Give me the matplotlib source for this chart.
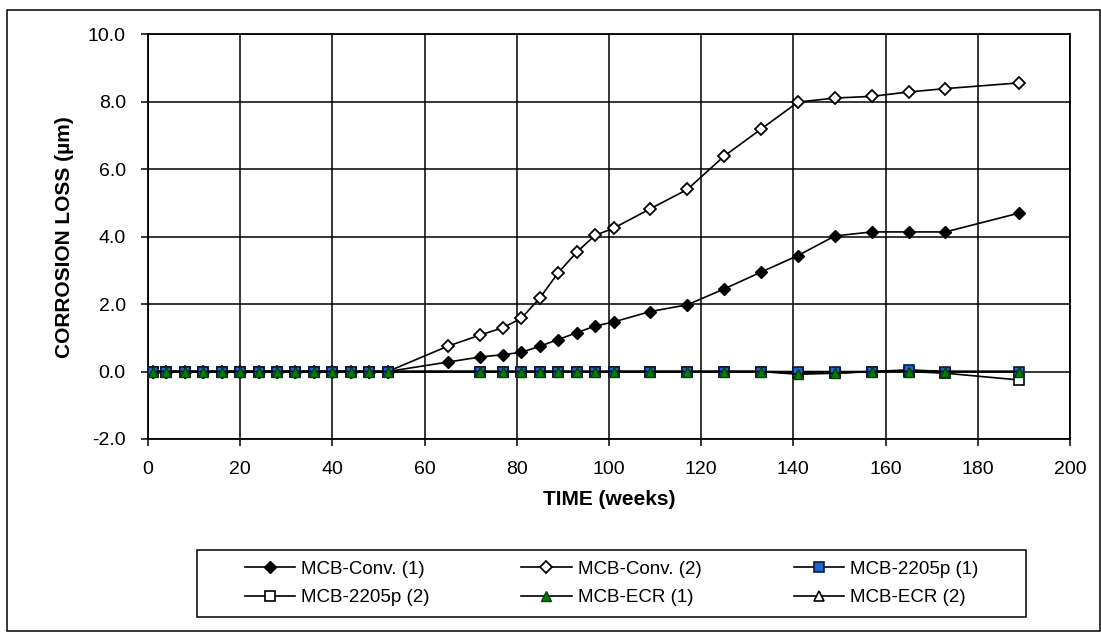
import matplotlib
matplotlib.use("Agg")
import matplotlib.pyplot as plt
from matplotlib.patches import Rectangle

plt.rcParams['font.family'] = ['Liberation Sans', 'DejaVu Sans']

# weeks for the conventional bars (with the extra reading at week 65)
weeks_conv = [1, 4, 8, 12, 16, 20, 24, 28, 32, 36, 40, 44, 48, 52,
              65, 72, 77, 81, 85, 89, 93, 97, 101, 109, 117, 125, 133,
              141, 149, 157, 165, 173, 189]
# weeks for the 2205p and ECR bars
weeks_other = [1, 4, 8, 12, 16, 20, 24, 28, 32, 36, 40, 44, 48, 52,
               72, 77, 81, 85, 89, 93, 97, 101, 109, 117, 125, 133,
               141, 149, 157, 165, 173, 189]

conv_1 = [0, 0, 0, 0, 0, 0, 0, 0, 0, 0, 0, 0, 0, 0,
          0.28, 0.43, 0.50, 0.57, 0.75, 0.95, 1.15, 1.35, 1.47, 1.78, 1.98, 2.45, 2.95,
          3.44, 4.02, 4.14, 4.14, 4.14, 4.70]
conv_2 = [0, 0, 0, 0, 0, 0, 0, 0, 0, 0, 0, 0, 0, 0,
          0.75, 1.08, 1.30, 1.58, 2.18, 2.93, 3.54, 4.04, 4.25, 4.83, 5.40, 6.39, 7.19,
          7.99, 8.11, 8.16, 8.29, 8.39, 8.56]
duplex_1 = [0, 0, 0, 0, 0, 0, 0, 0, 0, 0, 0, 0, 0, 0,
            0, 0, 0, 0, 0, 0, 0, 0, 0, 0, 0, 0,
            0, 0, 0, 0.05, 0, 0]
duplex_2 = [0, 0, 0, 0, 0, 0, 0, 0, 0, 0, 0, 0, 0, 0,
            0, 0, 0, 0, 0, 0, 0, 0, 0, 0, 0, 0,
            -0.05, -0.05, 0, 0, -0.05, -0.25]
ecr_1 = [0, 0, 0, 0, 0, 0, 0, 0, 0, 0, 0, 0, 0, 0,
         0, 0, 0, 0, 0, 0, 0, 0, 0, 0, 0, 0,
         -0.08, -0.05, 0, 0, 0, 0]
ecr_2 = [0, 0, 0, 0, 0, 0, 0, 0, 0, 0, 0, 0, 0, 0,
         0, 0, 0, 0, 0, 0, 0, 0, 0, 0, 0, 0,
         -0.05, -0.03, 0, 0.03, 0, 0]

fig = plt.figure(figsize=(11.01, 6.32), dpi=100)
ax = fig.add_axes([0.1344, 0.3054, 0.8374, 0.6403])

lw = 1.2
h_c1, = ax.plot(weeks_conv, conv_1, color='black', lw=lw, marker='D', ms=6,
                mfc='black', mec='black', zorder=3, label='MCB-Conv. (1)')
h_c2, = ax.plot(weeks_conv, conv_2, color='black', lw=lw, marker='D', ms=6,
                mfc='white', mec='black', mew=1.3, zorder=3, label='MCB-Conv. (2)')
h_d2, = ax.plot(weeks_other, duplex_2, color='black', lw=lw, marker='s', ms=7.5,
                mfc='white', mec='black', mew=1.2, zorder=4, label='MCB-2205p (2)')
h_e2, = ax.plot(weeks_other, ecr_2, color='black', lw=lw, marker='^', ms=7.5,
                mfc='white', mec='black', mew=1.2, zorder=4, label='MCB-ECR (2)')
h_d1, = ax.plot(weeks_other, duplex_1, color='black', lw=lw, marker='s', ms=7.5,
                mfc='#1F66CC', mec='#0A1A40', mew=1.2, zorder=5, label='MCB-2205p (1)')
h_e1, = ax.plot(weeks_other, ecr_1, color='black', lw=lw, marker='^', ms=7.5,
                mfc='#008000', mec='#0B3A0B', mew=1.0, zorder=6, label='MCB-ECR (1)')

ax.set_xlim(0, 200)
ax.set_ylim(-2, 10)
ax.set_xticks(range(0, 201, 20))
ax.set_yticks([-2, 0, 2, 4, 6, 8, 10])
ax.set_yticklabels(['%.1f' % v for v in [-2, 0, 2, 4, 6, 8, 10]])
ax.tick_params(direction='out', length=5, width=1.1, labelsize=14, pad=11)
ax.grid(True, color='black', linewidth=1.1)
ax.set_axisbelow(True)
for s in ax.spines.values():
    s.set_linewidth(1.3)

ax.set_xlabel('TIME (weeks)', fontsize=15, fontweight='bold')
ax.set_ylabel('CORROSION LOSS (µm)', fontsize=15, fontweight='bold')
ax.xaxis.set_label_coords(0.5, -0.125)
ax.yaxis.set_label_coords(-0.080, 0.5)

# legend in row order, matplotlib fills columns first
handles = [h_c1, h_d2, h_c2, h_e1, h_d1, h_e2]
fig.legend(handles, [h.get_label() for h in handles], loc='center',
           bbox_to_anchor=(0.5554, 0.0767), ncol=3, frameon=False, fontsize=13.5,
           handlelength=2.67, handletextpad=0.34, columnspacing=4.9, labelspacing=0.6)

# legend box and outer chart border
fig.patches.append(Rectangle((196.7 / 1101, 14.7 / 632), 829.3 / 1101, 67.3 / 632,
                             transform=fig.transFigure, fill=False,
                             edgecolor='black', linewidth=1.1))
fig.patches.append(Rectangle((7 / 1101, 0.8 / 632), 1092.5 / 1101, 621.2 / 632,
                             transform=fig.transFigure, fill=False,
                             edgecolor='black', linewidth=1.1))

fig.savefig('out.png', dpi=100)
